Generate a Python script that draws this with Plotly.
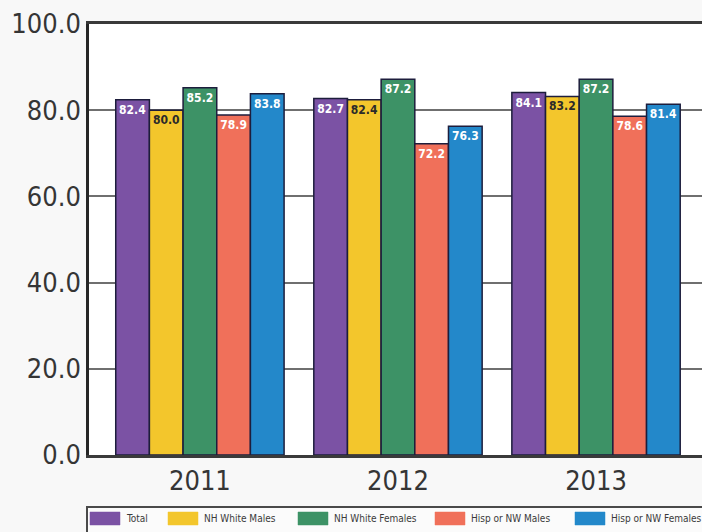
import plotly.graph_objects as go

# Survey years (x categories)
years = ["2011", "2012", "2013"]

# Series names and values per year
series_names = ["Total", "NH White Males", "NH White Females",
                "Hisp or NW Males", "Hisp or NW Females"]
total = [82.4, 82.7, 84.1]
nh_white_males = [80.0, 82.4, 83.2]
nh_white_females = [85.2, 87.2, 87.2]
hisp_nw_males = [78.9, 72.2, 78.6]
hisp_nw_females = [83.8, 76.3, 81.4]

y_ticks = [0, 20, 40, 60, 80, 100]

series_values = [total, nh_white_males, nh_white_females, hisp_nw_males, hisp_nw_females]
colors = ["#7b52a4", "#f3c62c", "#3d9266", "#f0705a", "#2388ca"]
text_colors = ["#ffffff", "#2a2a2a", "#ffffff", "#ffffff", "#ffffff"]

W, H = 702, 532
M_L, M_T, M_B, M_R = 89, 24, 77, 0
PW = W - M_L - M_R
PH = H - M_T - M_B

NARROW = "DejaVu Sans Condensed, Liberation Sans Narrow, sans-serif"

fig = go.Figure()
for name, vals, col, tcol in zip(series_names, series_values, colors, text_colors):
    fig.add_trace(go.Bar(
        x=years, y=vals, name=name,
        marker=dict(color=col, line=dict(color="#1d1d3c", width=1.5)),
        text=[f"{v:.1f}" for v in vals],
        textposition="inside", insidetextanchor="end",
        textangle=0, constraintext="none",
        textfont=dict(family=NARROW, size=12, color=tcol, weight="bold"),
        showlegend=False,
    ))

fig.update_layout(
    width=W, height=H,
    margin=dict(l=M_L, r=M_R, t=M_T, b=M_B),
    paper_bgcolor="#f8f8f8", plot_bgcolor="#ffffff",
    barmode="group", bargap=0.15, bargroupgap=0,
    font=dict(family=NARROW, color="#383838"),
)
fig.update_xaxes(
    type="category", range=[-0.56, 2.535],
    showline=True, linecolor="#3a3a3a", linewidth=3, mirror=True,
    showgrid=False, ticks="",
    tickfont=dict(family=NARROW, size=27, color="#353535"),
)
fig.update_yaxes(
    range=[0, 100], tickvals=y_ticks,
    ticktext=[f"{t:.1f}" for t in y_ticks],
    showline=True, linecolor="#262626", linewidth=2.5,
    showgrid=True, gridcolor="#6f6f6f", gridwidth=2,
    zeroline=False, ticks="",
    tickfont=dict(family=NARROW, size=27, color="#353535"),
)

# Boxed legend strip beneath the chart
def px_x(px):
    return (px - M_L) / PW

def px_y(py):
    return (H - M_B - py) / PH

fig.add_shape(type="rect", xref="paper", yref="paper",
              x0=px_x(87), x1=px_x(730), y0=px_y(507), y1=px_y(545),
              line=dict(color="#4a4a4a", width=2), fillcolor="#fbfbfb", layer="below")

swatch_left = [90, 168, 298, 435, 575]
for name, col, sx in zip(series_names, colors, swatch_left):
    fig.add_shape(type="rect", xref="paper", yref="paper",
                  x0=px_x(sx), x1=px_x(sx + 30), y0=px_y(512), y1=px_y(525),
                  line=dict(color=col, width=0.5), fillcolor=col)
    fig.add_annotation(xref="paper", yref="paper", x=px_x(sx + 34), y=px_y(518.5),
                       text=name, showarrow=False, xanchor="left", yanchor="middle",
                       font=dict(family=NARROW, size=10, color="#3a3a3a"))

fig.write_html("out.html")
